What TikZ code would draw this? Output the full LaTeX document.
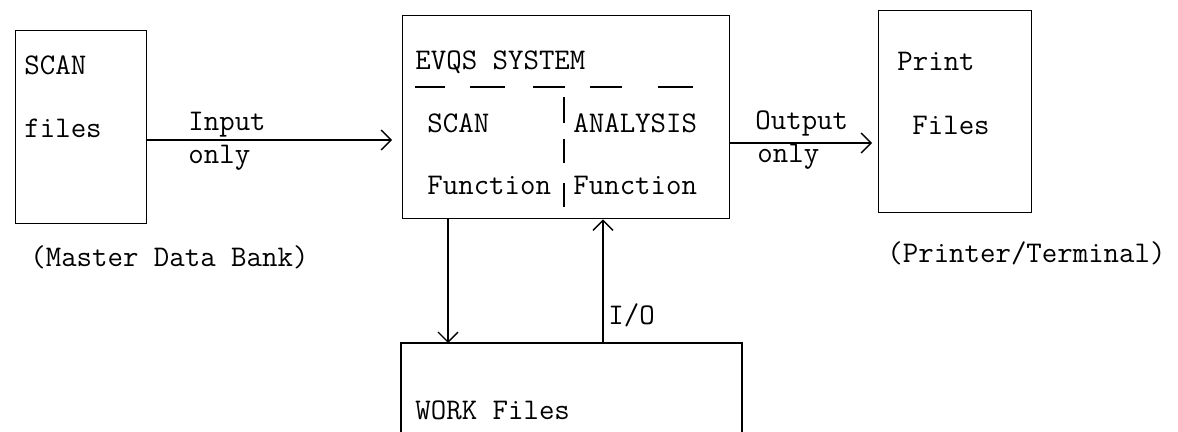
\documentclass[tikz,border=0pt]{standalone}
\usetikzlibrary{arrows.meta}
\begin{document}
\begin{tikzpicture}[x=0.5pt,y=-0.5pt,
  box/.style={draw, line width=0.7pt, anchor=north west, inner sep=0pt},
  lbl/.style={anchor=west, inner sep=0pt, font=\ttfamily\fontsize{15pt}{17pt}\selectfont},
  rule/.style={line width=0.7pt},
  flow/.style={line width=0.7pt, -{Straight Barb[length=5pt,width=10pt,line width=0.7pt]}}]
\useasboundingbox (0,0) rectangle (1178,432);
\clip (0,0) rectangle (1178,432);

% file boxes and the system box
\node[box, minimum width=65.5pt, minimum height=96.5pt] (scan) at (15,30) {};
\node[box, minimum width=163.5pt, minimum height=101.5pt] (evqs) at (402,15) {};
\node[box, minimum width=76.5pt, minimum height=101pt] (print) at (878,10) {};
% work files box, open at the bottom edge
\node[anchor=north west, inner sep=0pt, minimum width=170pt, minimum height=60pt] (work) at (401,343) {};
\draw[rule] (work.south west) -- (work.north west) -- (work.north east) -- (work.south east);

% texts in the boxes
\node[lbl] (t1) at (24,65) {SCAN};
\node[lbl] (t2) at (24,128) {files};
\node[lbl] (t3) at (415,62) {EVQS SYSTEM};
\node[lbl] (t4) at (427,123) {SCAN};
\node[lbl] (t5) at (427,185) {Function};
\node[lbl] (t6) at (573,123) {ANALYSIS};
\node[lbl] (t7) at (573,185) {Function};
\node[lbl] (t8) at (897,61) {Print};
\node[lbl] (t9) at (912,125) {Files};
\node[lbl] (t10) at (415,410) {WORK Files};

% captions under the boxes
\node[lbl] (c1) at (30,257) {(Master Data Bank)};
\node[lbl] (c2) at (887,253) {(Printer/Terminal)};

% dashed rule under the title and the split between the functions
\foreach \a/\b in {415/445, 470/505, 533/565, 590/622, 658/693}
  \draw[rule] (\a,87) -- (\b,87);
\draw[rule] (564,97) -- (564,123);
\draw[rule] (564,139) -- (564,163);
\draw[rule] (564,183) -- (564,207);

% data flows
\coordinate (inY) at (0,140);
\coordinate (outY) at (0,143);
\coordinate (downX) at (448,0);
\coordinate (upX) at (603,0);
\draw[flow, shorten >=5pt] (scan.east |- inY) -- (evqs.west |- inY);
\draw[flow, shorten >=3pt] (evqs.east |- outY) -- (print.west |- outY);
\draw[flow] (evqs.south -| downX) -- (work.north -| downX);
\draw[flow] (work.north -| upX) -- (evqs.south -| upX);

% flow labels
\node[lbl] (l1) at (188,125) {Input};
\node[lbl] (l2) at (188,158) {only};
\node[lbl] (l3) at (755,123) {Output};
\node[lbl] (l4) at (757,157) {only};
\node[lbl] (l5) at (608,315) {I/O};
\end{tikzpicture}
\end{document}
